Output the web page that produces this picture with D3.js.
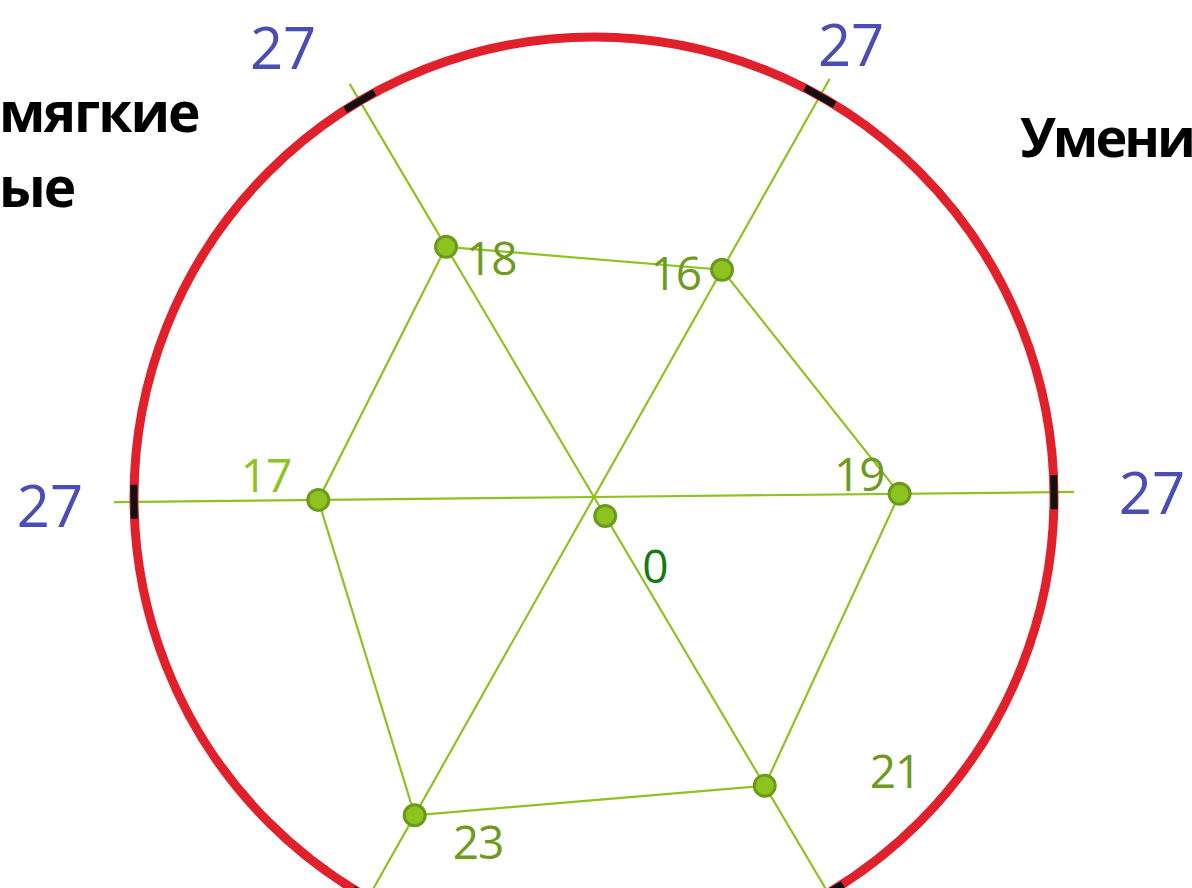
<!DOCTYPE html>
<html>
<head>
<meta charset="utf-8">
<script src="https://cdn.jsdelivr.net/npm/d3@7"></script>
<style>
  body { margin: 0; background: #fff; overflow: hidden; }
  svg { display: block; }
</style>
</head>
<body>
<script>
// Data
const values = [18, 16, 19, 21, 23, 17];        // clockwise from top-left axis
const axisMax = [27, 27, 27, 27, 27, 27];       // labels at the outer ring
const centerValue = 0;
const titleLeft = ["мягкие", "ые"];
const titleRight = ["Умени"];

// Layout
const width = 1192, height = 888;
const cx = 594, cy = 497;
const R = 460;                 // outer ring radius
const rotation = -0.6;         // slight tilt of the whole drawing (deg)

// label offsets relative to each dot
const labelPos = [
  { dx: 20, dy: 28, anchor: "start", color: "#6e9a1e" },
  { dx: -21, dy: 20, anchor: "end", color: "#6e9a1e" },
  { dx: -15, dy: -3, anchor: "end", color: "#6e9a1e" },
  { dx: 105, dy: 2, anchor: "start", color: "#6e9a1e" },
  { dx: 38, dy: 44, anchor: "start", color: "#6e9a1e" },
  { dx: -27, dy: -8, anchor: "end", color: "#8dc21f" }
];

// nudges for the ring labels
const maxShift = [
  { dx: -36, dy: 14 }, { dx: -8, dy: 17 }, { dx: 18, dy: 0 },
  { dx: 0, dy: 0 }, { dx: 0, dy: 0 }, { dx: -4, dy: 2 }
];

const svg = d3.select("body")
  .append("svg")
  .attr("width", width)
  .attr("height", height);

// Radial scale for the values
const r = d3.scaleLinear()
  .domain([0, 27])
  .range([22, 425]);

// Angle of each axis
const angle = d3.scaleLinear()
  .domain([0, values.length])
  .range([-120 + rotation, 240 + rotation]);

const rad = i => angle(i) * Math.PI / 180;
const pos = (i, dist) => [cx + dist * Math.cos(rad(i)), cy + dist * Math.sin(rad(i))];

const green = "#8dc21f";

// Axis spokes
svg.append("g")
  .selectAll("line")
  .data(values)
  .join("line")
  .attr("x1", cx)
  .attr("y1", cy)
  .attr("x2", (d, i) => pos(i, R + 20)[0])
  .attr("y2", (d, i) => pos(i, R + 20)[1])
  .attr("stroke", green)
  .attr("stroke-width", 2.2);

// Outer red ring
svg.append("circle")
  .attr("cx", cx)
  .attr("cy", cy)
  .attr("r", R)
  .attr("fill", "none")
  .attr("stroke", "#e0202a")
  .attr("stroke-width", 9);

// Black tick marks where the axes meet the ring
const tickHalf = 17;
svg.append("g")
  .selectAll("line")
  .data(axisMax)
  .join("line")
  .attr("x1", (d, i) => pos(i, R)[0] - tickHalf * Math.sin(rad(i)))
  .attr("y1", (d, i) => pos(i, R)[1] + tickHalf * Math.cos(rad(i)))
  .attr("x2", (d, i) => pos(i, R)[0] + tickHalf * Math.sin(rad(i)))
  .attr("y2", (d, i) => pos(i, R)[1] - tickHalf * Math.cos(rad(i)))
  .attr("stroke", "#111")
  .attr("stroke-width", 7);

// Max labels (only those that land inside the frame)
const labelDist = 540;
const maxLabels = axisMax
  .map((d, i) => ({ v: d, x: pos(i, labelDist)[0] + maxShift[i].dx, y: pos(i, labelDist)[1] + maxShift[i].dy }))
  .filter(d => d.y < height - 30);

svg.append("g")
  .selectAll("text")
  .data(maxLabels)
  .join("text")
  .attr("x", d => d.x)
  .attr("y", d => d.y)
  .attr("text-anchor", "middle")
  .attr("dominant-baseline", "central")
  .attr("font-family", "Open Sans, sans-serif")
  .attr("font-size", 58)
  .attr("fill", "#4a4db4")
  .text(d => d.v);

// Polygon joining the values
const pts = values.map((v, i) => pos(i, r(v)));
svg.append("path")
  .attr("d", d3.line()(pts) + "Z")
  .attr("fill", "none")
  .attr("stroke", green)
  .attr("stroke-width", 2.2);

// Center point (value 0), placed on the lower-right axis
const c0 = pos(3, r(centerValue));
svg.append("circle")
  .attr("cx", c0[0])
  .attr("cy", c0[1])
  .attr("r", 10.5)
  .attr("fill", green)
  .attr("stroke", "#6a9a1c")
  .attr("stroke-width", 3);
svg.append("text")
  .attr("x", c0[0] + 37)
  .attr("y", c0[1] + 67)
  .attr("font-family", "Open Sans, sans-serif")
  .attr("font-size", 46)
  .attr("fill", "#157a15")
  .text(centerValue);

// Value dots
svg.append("g")
  .selectAll("circle")
  .data(values)
  .join("circle")
  .attr("cx", (d, i) => pts[i][0])
  .attr("cy", (d, i) => pts[i][1])
  .attr("r", 10.5)
  .attr("fill", green)
  .attr("stroke", "#6a9a1c")
  .attr("stroke-width", 3);

// Value labels
svg.append("g")
  .selectAll("text")
  .data(values)
  .join("text")
  .attr("x", (d, i) => pts[i][0] + labelPos[i].dx)
  .attr("y", (d, i) => pts[i][1] + labelPos[i].dy)
  .attr("text-anchor", (d, i) => labelPos[i].anchor)
  .attr("font-family", "Open Sans, sans-serif")
  .attr("font-size", 46)
  .attr("letter-spacing", -1)
  .attr("fill", (d, i) => labelPos[i].color)
  .text(d => d);

// Category titles (cut by the frame)
svg.append("text")
  .attr("font-family", "Open Sans, sans-serif")
  .attr("font-weight", "bold")
  .attr("font-size", 55)
  .attr("letter-spacing", -2)
  .attr("fill", "#000")
  .selectAll("tspan")
  .data(titleLeft)
  .join("tspan")
  .attr("x", -1)
  .attr("y", (d, i) => 132 + i * 75)
  .text(d => d);

svg.append("text")
  .attr("x", 1020)
  .attr("y", 157)
  .attr("font-family", "Open Sans, sans-serif")
  .attr("font-weight", "bold")
  .attr("font-size", 54)
  .attr("letter-spacing", -3)
  .attr("fill", "#000")
  .text(titleRight[0]);
</script>
</body>
</html>
